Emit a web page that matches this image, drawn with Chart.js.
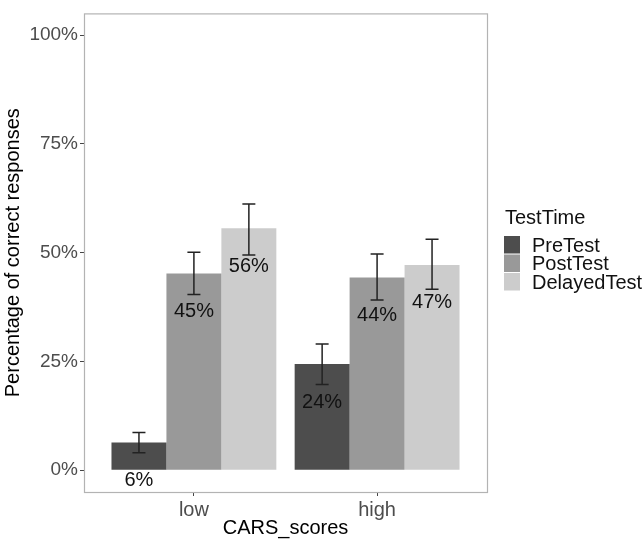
<!DOCTYPE html>
<html>
<head>
<meta charset="utf-8">
<script src="https://cdn.jsdelivr.net/npm/chart.js@4"></script>
<style>
  html, body { margin: 0; padding: 0; background: #fff; }
  #wrap { width: 644px; height: 541px; }
</style>
</head>
<body>
<div id="wrap"><canvas id="chart" width="644" height="541"></canvas></div>
<script>
// ── data ────────────────────────────────────────────
const categories = ['low', 'high'];
const groups = ['PreTest', 'PostTest', 'DelayedTest'];
const fills = ['#4d4d4d', '#999999', '#cccccc'];

const preTest     = [6.4, 24.4];
const postTest    = [45.2, 44.3];
const delayedTest = [55.6, 47.2];

const preLow      = [4.0, 19.7];
const preHigh     = [8.7, 29.0];
const postLow     = [40.4, 39.1];
const postHigh    = [50.1, 49.7];
const delayedLow  = [49.5, 41.6];
const delayedHigh = [61.2, 53.1];

const yTicks = [0, 25, 50, 75, 100];

const FONT = "'Liberation Sans', Arial, Helvetica, sans-serif";

const seriesValues = [preTest, postTest, delayedTest];
const seriesErr = [[preLow, preHigh], [postLow, postHigh], [delayedLow, delayedHigh]];

// error bars + value labels
const barExtras = {
  id: 'barExtras',
  afterDatasetsDraw(chart) {
    const ctx = chart.ctx;
    const y = chart.scales.y;
    ctx.save();
    chart.data.datasets.forEach((ds, di) => {
      const meta = chart.getDatasetMeta(di);
      const [lo, hi] = seriesErr[di];
      meta.data.forEach((bar, i) => {
        const yl = y.getPixelForValue(lo[i]);
        const yh = y.getPixelForValue(hi[i]);
        const cap = 6.5;
        ctx.strokeStyle = '#222';
        ctx.lineWidth = 1.5;
        ctx.beginPath();
        ctx.moveTo(bar.x, yl); ctx.lineTo(bar.x, yh);
        ctx.moveTo(bar.x - cap, yl); ctx.lineTo(bar.x + cap, yl);
        ctx.moveTo(bar.x - cap, yh); ctx.lineTo(bar.x + cap, yh);
        ctx.stroke();

        ctx.fillStyle = '#111';
        ctx.font = '20px ' + FONT;
        ctx.textAlign = 'center';
        ctx.textBaseline = 'middle';
        ctx.fillText(Math.round(seriesValues[di][i]) + '%', bar.x, bar.y + 38);
      });
    });
    ctx.restore();
  },
  afterDraw(chart) {
    const ctx = chart.ctx;
    const a = chart.chartArea;
    ctx.save();
    // panel border
    ctx.strokeStyle = '#b3b3b3';
    ctx.lineWidth = 1.2;
    ctx.strokeRect(a.left + 0.5, a.top + 0.5, a.right - a.left, a.bottom - a.top);

    // legend
    const lx = 504, ly = 236, step = 18.5;
    ctx.fillStyle = '#111';
    ctx.font = '20px ' + FONT;
    ctx.textAlign = 'left';
    ctx.textBaseline = 'middle';
    ctx.fillText('TestTime', 505, 218);
    groups.forEach((g, i) => {
      ctx.fillStyle = fills[i];
      ctx.fillRect(lx, ly + i * step, 16, step - 1);
      ctx.fillStyle = '#111';
      ctx.fillText(g, 532, ly + i * step + 10);
    });
    ctx.restore();
  }
};

new Chart(document.getElementById('chart'), {
  type: 'bar',
  data: {
    datasets: groups.map((g, di) => ({
      label: g,
      data: seriesValues[di].map((v, i) => ({ x: i + 1, y: v })),
      backgroundColor: fills[di],
      borderWidth: 0,
      categoryPercentage: 0.9,
      barPercentage: 1.0
    }))
  },
  options: {
    responsive: false,
    animation: false,
    devicePixelRatio: 1,
    layout: { padding: { top: 5, right: 157, bottom: 0, left: 0 } },
    plugins: {
      legend: { display: false },
      tooltip: { enabled: false }
    },
    scales: {
      x: {
        type: 'linear',
        min: 0.4,
        max: 2.6,
        offset: false,
        afterBuildTicks: (s) => { s.ticks = categories.map((c, i) => ({ value: i + 1 })); },
        afterFit: (s) => { s.height = 49; },
        grid: { offset: false, drawOnChartArea: false, drawTicks: true, tickLength: 4, color: '#444' },
        border: { display: false },
        ticks: {
          callback: (v) => categories[v - 1],
          color: '#4d4d4d',
          font: { family: FONT, size: 20 },
          padding: 2,
          maxRotation: 0,
          autoSkip: false
        },
        title: {
          display: true,
          text: 'CARS_scores',
          color: '#000',
          font: { family: FONT, size: 20 },
          padding: { top: 0, bottom: 1 }
        }
      },
      y: {
        min: -5,
        max: 105,
        afterBuildTicks: (s) => { s.ticks = yTicks.map(v => ({ value: v })); },
        afterFit: (s) => { s.width = 84; },
        grid: { drawOnChartArea: false, drawTicks: true, tickLength: 4, color: '#444' },
        border: { display: false },
        ticks: {
          callback: (v) => v + '%',
          color: '#4d4d4d',
          font: { family: FONT, size: 19 },
          padding: 2
        },
        title: {
          display: true,
          text: 'Percentage of correct responses',
          color: '#000',
          font: { family: FONT, size: 20 },
          padding: { top: 1, bottom: 0 }
        }
      }
    }
  },
  plugins: [barExtras]
});
</script>
</body>
</html>
